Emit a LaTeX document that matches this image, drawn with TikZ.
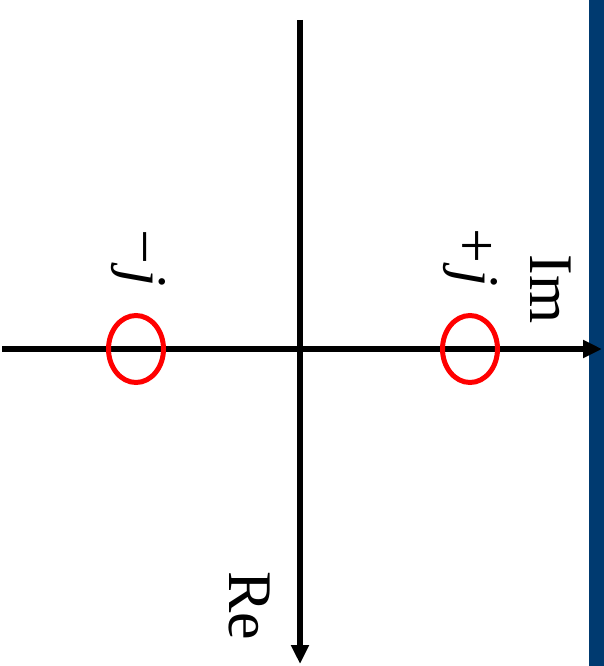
\documentclass[tikz,border=0pt]{standalone}
\usepackage{fontspec}
\setmainfont{Liberation Serif}
\usepackage{xcolor}
\usetikzlibrary{arrows.meta, shapes.geometric}
\definecolor{barblue}{RGB}{0,58,112}

\begin{document}
\begin{tikzpicture}[
    x=1pt, y=-1pt,
    axis/.style={line width=5.5pt, -{Triangle[length=19pt, width=17pt]}},
    zero/.style={draw=red, line width=5pt, ellipse, minimum width=55pt, minimum height=67pt, inner sep=0pt},
    lbl/.style={font=\fontsize{62}{66}\selectfont, rotate=-90, inner sep=0pt},
]
\useasboundingbox (0,0) rectangle (604,666);
\fill[barblue] (589,0) rectangle (604,666);

% axes
\coordinate (retop) at (300,20);
\coordinate (rebot) at (300,664);
\coordinate (imleft) at (2,349);
\coordinate (imright) at (602,349);
\draw[axis] (retop) -- (rebot);
\draw[axis] (imleft) -- (imright);

% zeros
\node[zero] (zminus) at (136,349) {};
\node[zero] (zplus) at (470,349) {};

\node[lbl] (re) at (249,606) {Re};
\node[lbl] (im) at (551,289) {Im};
\node[lbl] (pj) at (470,258) {+\kern6pt\textit{j}};
\node[lbl] (mj) at (138,258) {−\kern5pt\textit{j}};

\end{tikzpicture}
\end{document}
